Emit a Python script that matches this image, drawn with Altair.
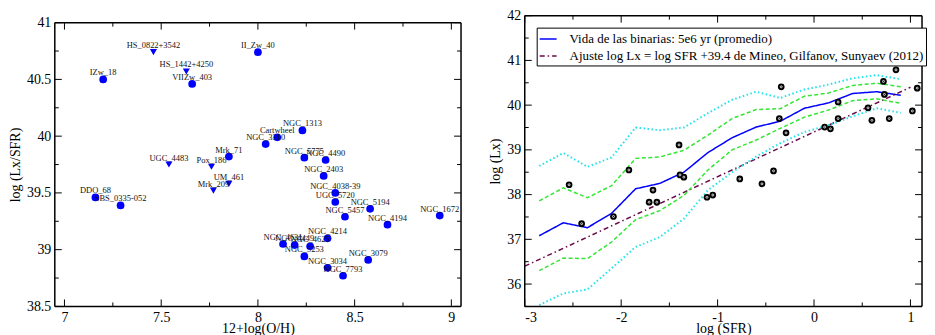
import altair as alt
import pandas as pd

# ---------------- Left panel data ----------------
gal_names = ["IZw_18", "HS_0822+3542", "HS_1442+4250", "VIIZw_403", "II_Zw_40",
             "UGC_4483", "Pox_186", "Mrk_71", "UM_461", "Mrk_209", "DDO_68",
             "SBS_0335-052", "NGC_1313", "Cartwheel", "NGC_3310", "NGC_5775",
             "NGC_4490", "NGC_2403", "NGC_4038-39", "UGC_5720", "NGC_5194",
             "NGC_5457", "NGC_1672", "NGC_4194", "NGC_4214", "NGC_4631",
             "NGC_4449", "NGC_4625", "NGC_5253", "NGC_3034", "NGC_7793", "NGC_3079"]
gal_oh = [7.20, 7.46, 7.63, 7.66, 8.00, 7.54, 7.76, 7.85, 7.85, 7.77, 7.16,
          7.29, 8.23, 8.10, 8.04, 8.24, 8.35, 8.34, 8.40, 8.40, 8.58,
          8.45, 8.94, 8.67, 8.36, 8.13, 8.19, 8.27, 8.24, 8.36, 8.44, 8.57]
gal_lx_sfr = [40.50, 40.74, 40.57, 40.46, 40.74, 39.75, 39.73, 39.82, 39.58, 39.52, 39.46,
              39.39, 40.05, 39.99, 39.93, 39.81, 39.79, 39.65, 39.50, 39.42, 39.36,
              39.29, 39.30, 39.22, 39.10, 39.05, 39.04, 39.03, 38.94, 38.84, 38.77, 38.91]
gal_limit = [False, True, True, False, False, True, True, False, True, True, False,
             False, False, False, False, False, False, False, False, False, False,
             False, False, False, False, False, False, False, False, False, False, False]

left_x_domain = [6.95, 9.05]
left_y_domain = [38.5, 41]
left_x_major = [7, 7.5, 8, 8.5, 9]
left_x_minor = [7.25, 7.75, 8.25, 8.75]
left_y_major = [38.5, 39, 39.5, 40, 40.5, 41]
left_y_minor = [38.75, 39.25, 39.75, 40.25, 40.75]

# ---------------- Right panel data ----------------
sfr_grid = [-2.85, -2.6, -2.35, -2.1, -1.85, -1.6, -1.35, -1.1,
            -0.85, -0.6, -0.35, -0.1, 0.15, 0.4, 0.65, 0.9]
lx_mean = [37.08, 37.37, 37.26, 37.58, 38.13, 38.25, 38.50, 38.94,
           39.27, 39.51, 39.64, 39.93, 40.05, 40.26, 40.30, 40.22]
lx_green_hi = [37.86, 38.15, 37.93, 38.20, 38.81, 38.84, 38.99, 39.33,
               39.70, 39.90, 39.92, 40.20, 40.27, 40.44, 40.49, 40.41]
lx_green_lo = [36.30, 36.58, 36.57, 36.94, 37.44, 37.64, 37.98, 38.55,
               39.00, 39.22, 39.48, 39.73, 39.89, 40.10, 40.14, 40.04]
lx_cyan_hi = [38.64, 38.93, 38.62, 38.83, 39.50, 39.44, 39.50, 39.82,
              40.12, 40.30, 40.16, 40.35, 40.46, 40.60, 40.67, 40.58]
lx_cyan_lo = [35.53, 35.79, 35.88, 36.35, 36.83, 37.05, 37.46, 38.10,
              38.50, 38.85, 39.15, 39.40, 39.55, 39.75, 39.93, 39.83]
fit_sfr = [-3.0, 1.0]
fit_lx = [36.4, 40.4]

obs_sfr = [-2.54, -2.41, -2.08, -1.92, -1.67, -1.71, -1.63, -1.40, -1.39, -1.35,
           -1.11, -1.05, -0.77, -0.54, -0.42, -0.34, -0.36, -0.29, 0.11, 0.17,
           0.25, 0.25, 0.56, 0.60, 0.72, 0.73, 0.78, 0.85, 1.02, 1.07, 1.20]
obs_lx = [38.22, 37.35, 37.51, 38.55, 38.10, 37.83, 37.83, 39.11, 38.44, 38.39,
          37.94, 37.99, 38.35, 38.24, 38.53, 40.41, 39.70, 39.38, 39.51, 39.47,
          40.07, 39.70, 39.94, 39.66, 40.53, 40.24, 39.70, 40.79, 39.87, 40.38, 40.46]

legend_labels = ["Vida de las binarias: 5e6 yr (promedio)",
                 "Ajuste log Lx = log SFR +39.4 de Mineo, Gilfanov, Sunyaev (2012)"]

right_x_domain = [-3, 1.12]
right_y_domain = [35.5, 42]
right_x_major = [-3, -2, -1, 0, 1]
right_x_minor = [-2.5, -1.5, -0.5, 0.5]
right_y_major = [36, 37, 38, 39, 40, 41, 42]
right_y_minor = [35.5, 36.5, 37.5, 38.5, 39.5, 40.5, 41.5]

# ---------------- Styling / layout ----------------
SERIF = "Liberation Serif"
W1, H1 = 408, 292          # left view; data area is the lower 285 px
TOP_GAP1 = 7
W2, H2 = 399, 292
MAJ_PX, MIN_PX = 7, 4
LABEL_EXPR = "datum.value < 0 ? '-' + format(-datum.value, '~g') : format(datum.value, '~g')"


def tick_frame(xdom, ydom, xmaj, xmin, ymaj, ymin, wpx, hpx):
    """Inward tick segments on all four sides, in data units."""
    ux = (xdom[1] - xdom[0]) / wpx
    uy = (ydom[1] - ydom[0]) / hpx
    rows = []
    for vals, L in ((xmaj, MAJ_PX), (xmin, MIN_PX)):
        for v in vals:
            rows.append((v, v, ydom[0], ydom[0] + L * uy))
            rows.append((v, v, ydom[1], ydom[1] - L * uy))
    for vals, L in ((ymaj, MAJ_PX), (ymin, MIN_PX)):
        for v in vals:
            rows.append((xdom[0], xdom[0] + L * ux, v, v))
            rows.append((xdom[1], xdom[1] - L * ux, v, v))
    return pd.DataFrame(rows, columns=["x", "x2", "y", "y2"])


def frame_df(xdom, ydom):
    return pd.DataFrame([
        (xdom[0], xdom[1], ydom[0], ydom[0]),
        (xdom[0], xdom[1], ydom[1], ydom[1]),
        (xdom[0], xdom[0], ydom[0], ydom[1]),
        (xdom[1], xdom[1], ydom[0], ydom[1]),
    ], columns=["x", "x2", "y", "y2"])


def rule_layer(df, xsc, ysc, width):
    return alt.Chart(df).mark_rule(color="black", strokeWidth=width).encode(
        x=alt.X("x:Q", scale=xsc, axis=None), x2="x2:Q",
        y=alt.Y("y:Q", scale=ysc, axis=None), y2="y2:Q",
    )


def main_x(values, title):
    return alt.Axis(orient="bottom", values=values, ticks=False, tickSize=0,
                    domain=False, grid=False, labelPadding=4, labelExpr=LABEL_EXPR,
                    title=title, titlePadding=-3)


def main_y(values, title):
    return alt.Axis(orient="left", values=values, ticks=False, tickSize=0,
                    domain=False, grid=False, labelPadding=4, labelExpr=LABEL_EXPR,
                    title=title, titlePadding=4)


# ---------------- Left panel ----------------
df_left = pd.DataFrame({"name": gal_names, "oh": gal_oh, "lx": gal_lx_sfr,
                        "limit": ["lim" if v else "det" for v in gal_limit]})
xsc1 = alt.Scale(domain=left_x_domain, nice=False, zero=False)
ysc1 = alt.Scale(domain=left_y_domain, nice=False, zero=False, range=[H1, TOP_GAP1])

left_points = alt.Chart(df_left).mark_point(filled=True, color="#0000ff", opacity=1).encode(
    x=alt.X("oh:Q", scale=xsc1, axis=main_x(left_x_major, "12+log(O/H)")),
    y=alt.Y("lx:Q", scale=ysc1, axis=main_y(left_y_major, "log (Lx/SFR)")),
    shape=alt.Shape("limit:N", scale=alt.Scale(domain=["det", "lim"],
                                                range=["circle", "triangle-down"]),
                    legend=None),
    size=alt.Size("limit:N", scale=alt.Scale(domain=["det", "lim"], range=[60, 50]),
                  legend=None),
)

left_text = alt.Chart(df_left).mark_text(font=SERIF, fontSize=8.5, dy=-4, align="center",
                                         baseline="alphabetic", color="#111111").encode(
    x=alt.X("oh:Q", scale=xsc1, axis=None),
    y=alt.Y("lx:Q", scale=ysc1, axis=None),
    text="name:N",
)

left = alt.layer(
    left_points, left_text,
    rule_layer(tick_frame(left_x_domain, left_y_domain, left_x_major, left_x_minor,
                          left_y_major, left_y_minor, W1, H1 - TOP_GAP1), xsc1, ysc1, 1),
    rule_layer(frame_df(left_x_domain, left_y_domain), xsc1, ysc1, 1.5),
).resolve_axis(x="independent", y="independent").properties(
    width=W1, height=H1, view=alt.ViewBackground(strokeOpacity=0))

# ---------------- Right panel ----------------
xsc2 = alt.Scale(domain=right_x_domain, nice=False, zero=False)
ysc2 = alt.Scale(domain=right_y_domain, nice=False, zero=False)


def band_layer(vals, color, dash, width):
    d = pd.DataFrame({"sfr": sfr_grid, "lx": vals})
    return alt.Chart(d).mark_line(color=color, strokeDash=dash, strokeWidth=width, clip=True).encode(
        x=alt.X("sfr:Q", scale=xsc2, axis=None),
        y=alt.Y("lx:Q", scale=ysc2, axis=None),
    )


df_leg = pd.DataFrame({
    "sfr": sfr_grid + fit_sfr,
    "lx": lx_mean + fit_lx,
    "serie": [legend_labels[0]] * len(sfr_grid) + [legend_labels[1]] * len(fit_sfr),
})

leg = alt.Legend(orient="none", legendX=484, legendY=12, title=None,
                 strokeColor="black", fillColor="white", padding=2,
                 labelFont=SERIF, labelFontSize=13, labelLimit=600, labelColor="black",
                 symbolType="stroke", symbolSize=289, symbolStrokeWidth=1.5,
                 rowPadding=0, labelOffset=12)

main_lines = alt.Chart(df_leg).mark_line(strokeWidth=1.5, clip=True).encode(
    x=alt.X("sfr:Q", scale=xsc2, axis=main_x(right_x_major, "log (SFR)")),
    y=alt.Y("lx:Q", scale=ysc2, axis=main_y(right_y_major, "log (Lx)")),
    color=alt.Color("serie:N", scale=alt.Scale(domain=legend_labels,
                                               range=["#0000ff", "#6b0a4a"]), legend=leg),
    strokeDash=alt.StrokeDash("serie:N", scale=alt.Scale(domain=legend_labels,
                                                         range=[[1, 0], [5, 3, 1.5, 3]]),
                              legend=leg),
)

df_obs = pd.DataFrame({"sfr": obs_sfr, "lx": obs_lx})
obs_outer = alt.Chart(df_obs).mark_point(filled=True, color="black", size=45, opacity=1,
                                         clip=True).encode(
    x=alt.X("sfr:Q", scale=xsc2, axis=None), y=alt.Y("lx:Q", scale=ysc2, axis=None))
obs_inner = alt.Chart(df_obs).mark_point(filled=False, color="white", size=4, strokeWidth=0.8,
                                         opacity=1, clip=True).encode(
    x=alt.X("sfr:Q", scale=xsc2, axis=None), y=alt.Y("lx:Q", scale=ysc2, axis=None))

right = alt.layer(
    main_lines,
    band_layer(lx_cyan_hi, "#22e3ea", [1.5, 2.5], 2),
    band_layer(lx_cyan_lo, "#22e3ea", [1.5, 2.5], 2),
    band_layer(lx_green_hi, "#33e633", [4, 2.5], 1.5),
    band_layer(lx_green_lo, "#33e633", [4, 2.5], 1.5),
    obs_outer, obs_inner,
    rule_layer(tick_frame(right_x_domain, right_y_domain, right_x_major, right_x_minor,
                          right_y_major, right_y_minor, W2, H2), xsc2, ysc2, 1),
    rule_layer(frame_df(right_x_domain, right_y_domain), xsc2, ysc2, 1.5),
).resolve_axis(x="independent", y="independent").properties(
    width=W2, height=H2, view=alt.ViewBackground(strokeOpacity=0))

chart = alt.hconcat(left, right, spacing=27).properties(
    padding={"left": 0, "top": 0, "right": 0, "bottom": 0}
).configure_axis(
    labelFont=SERIF, titleFont=SERIF, labelFontSize=14, titleFontSize=14,
    titleFontWeight="normal", labelColor="black", titleColor="black", grid=False,
).configure_view(strokeOpacity=0)

chart.save("out.html", embed_options={"renderer": "svg", "actions": False})
